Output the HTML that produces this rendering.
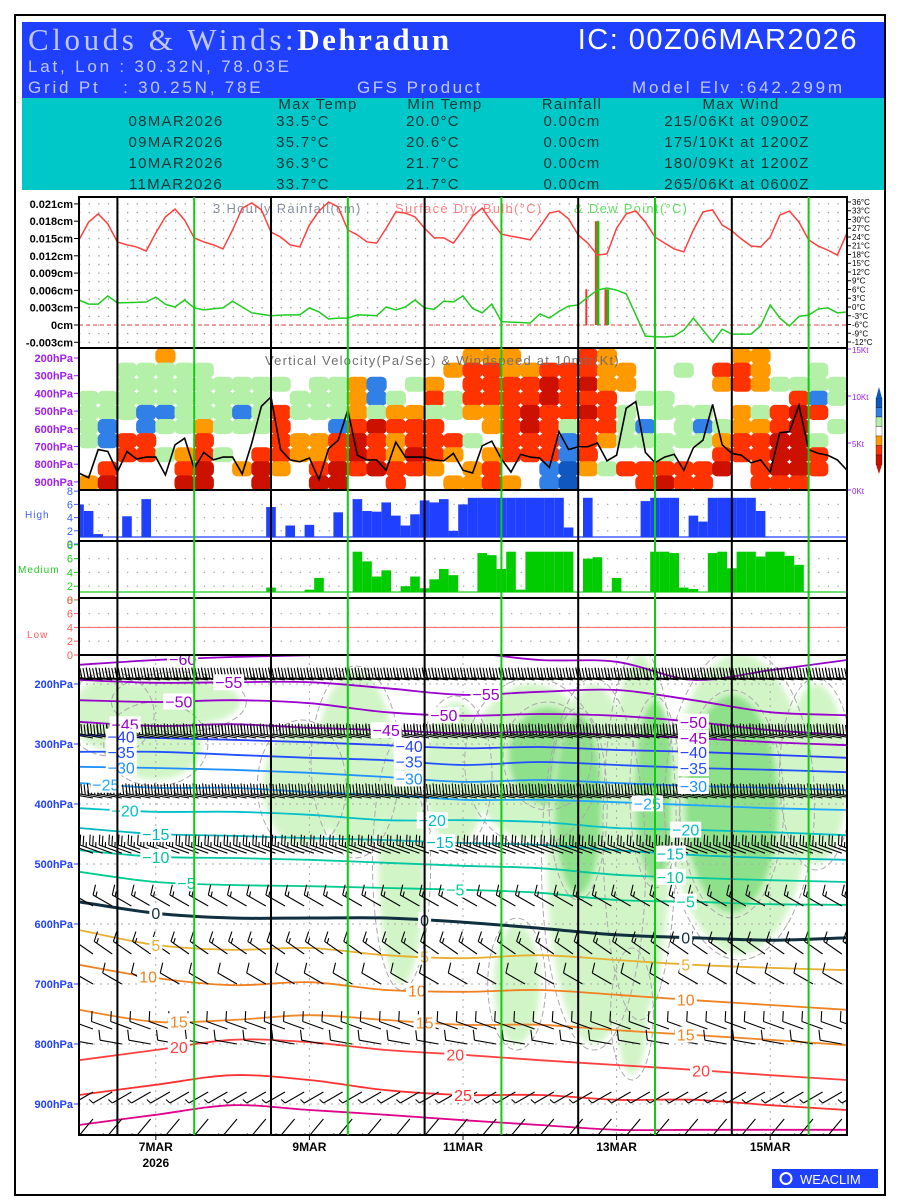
<!DOCTYPE html>
<html><head><meta charset="utf-8"><title>Clouds & Winds: Dehradun</title>
<style>
html,body{margin:0;padding:0;background:#fff;}
svg{display:block;font-family:"Liberation Sans",sans-serif;}
</style></head>
<body>
<svg id="chart" width="900" height="1200" viewBox="0 0 900 1200" xmlns="http://www.w3.org/2000/svg">
<defs>
 <clipPath id="clipRain"><rect x="79" y="197" width="768" height="150"/></clipPath>
 <clipPath id="clipVV"><rect x="79" y="349" width="768" height="141"/></clipPath>
 <clipPath id="clipLow"><rect x="79" y="656" width="768" height="479"/></clipPath>
 <filter id="soft"><feGaussianBlur stdDeviation="3"/></filter>
</defs>
<rect x="15" y="15" width="870" height="1180" fill="#fff" stroke="#000" stroke-width="2"/>
<g>
 <rect x="22" y="22" width="862" height="76" fill="#2040ff"/>
 <rect x="22" y="98" width="862" height="92" fill="#00c8c8"/>
 <text x="28" y="50" font-family="Liberation Serif, serif" font-size="31" fill="#c0c8ff" letter-spacing="3.6">Clouds &amp; Winds:<tspan fill="#fff" font-weight="bold" letter-spacing="2.5">Dehradun</tspan></text>
 <text x="858" y="49" text-anchor="end" font-size="29" fill="#fff" letter-spacing="1.5">IC: 00Z06MAR2026</text>
 <text x="28" y="72" font-size="17" fill="#c0c8ff" letter-spacing="2.8">Lat, Lon : 30.32N, 78.03E</text>
 <text x="28" y="93" font-size="17" fill="#c0c8ff" letter-spacing="2.8" xml:space="preserve">Grid Pt   : 30.25N, 78E</text>
 <text x="357" y="93" font-size="17" fill="#c0c8ff" letter-spacing="2.5">GFS Product</text>
 <text x="632" y="93" font-size="17" fill="#c0c8ff" letter-spacing="2.8">Model Elv :642.299m</text>
 <g font-size="15" fill="#103838" letter-spacing="1.3" text-anchor="middle">
  <text x="318" y="109">Max Temp</text><text x="445" y="109">Min Temp</text><text x="572" y="109">Rainfall</text><text x="741" y="109">Max Wind</text>
  <text x="176" y="126">08MAR2026</text><text x="303" y="126">33.5°C</text><text x="433" y="126">20.0°C</text><text x="572" y="126">0.00cm</text><text x="737" y="126">215/06Kt at 0900Z</text>
  <text x="176" y="147">09MAR2026</text><text x="303" y="147">35.7°C</text><text x="433" y="147">20.6°C</text><text x="572" y="147">0.00cm</text><text x="737" y="147">175/10Kt at 1200Z</text>
  <text x="176" y="168">10MAR2026</text><text x="303" y="168">36.3°C</text><text x="433" y="168">21.7°C</text><text x="572" y="168">0.00cm</text><text x="737" y="168">180/09Kt at 1200Z</text>
  <text x="176" y="189">11MAR2026</text><text x="303" y="189">33.7°C</text><text x="433" y="189">21.7°C</text><text x="572" y="189">0.00cm</text><text x="737" y="189">265/06Kt at 0600Z</text>
 </g>
 <rect x="22" y="190" width="862" height="6" fill="#fff"/>
</g>
<g id="plots"></g>
<g>
 <rect x="772" y="1169" width="106" height="19" fill="#2040ff"/>
 <circle cx="786" cy="1178.5" r="5.5" fill="none" stroke="#fff" stroke-width="2"/>
 <text x="800" y="1184" font-size="13" fill="#fff">WEACLIM</text>
</g>
</svg>
<script>
// ---------- DATA ----------
const temps=[23,29.1,31.9,28.5,22.3,21.3,20.6,19.2,25.4,30.9,33.6,29.8,23.7,22.3,21.3,19.9,26.4,33.9,35.7,33.3,25.7,24,21.3,20.6,28.1,32.9,36,34.3,26.4,24.7,22.3,21.9,27,32.6,32.2,30.9,27,23.7,23.7,21.9,26.4,31.2,33.9,29.1,25,24.3,23.7,23,27.4,32.2,32.9,30.2,24.7,21.9,17.8,18.2,27,31.9,32.9,29.1,24,21.9,19.9,18.9,26.4,32.6,33.3,28.1,26.1,23.3,20.9,20.6,24,31.5,32.9,29.1,23,20.9,19.5,17.8,25.4];
const dewPoints=[2.4,1,1,3.8,1.4,1.5,1.6,1.7,3.4,0.9,0,2.4,-0.3,-1,-0.6,-0.3,2,0,-2,-2.5,-3,-2.8,-2.7,-2.7,-0.3,-1.7,-4.1,-3.8,-3.8,-2.7,-2.8,-3,0,-1,0,2.4,-0.3,-0.8,2,1.7,3.8,-0.5,-2,1,-5,-5.2,-5.3,-5.5,-2.4,-3.8,-1.5,0.3,0.7,3.4,5.8,6.5,5.8,4.5,-2.7,-10,-10.2,-10.3,-10,-7.9,-3.8,-7.9,-12,-7.6,-9.3,-9.3,-9.3,-6.5,0.7,-3.8,-6.5,-3.2,-2.8,-0.7,-0.3,-2,-1.7];
const rainIdx=[53,54,55];
const rainRed=[0.0062,0.018,0.0062];
const rainGreen=[0,0.018,0.0062];
const windKt=[1.8,1.3,4.3,4.1,1.9,4.1,3.3,3.5,3.5,1.6,4.8,5.5,2.3,4,3.2,3.5,3.5,1.7,5,8.9,9.9,4.3,3.2,3,3.4,1.1,4.4,5.3,8.5,3.7,3.2,3.2,2.1,5.1,3.5,3.5,3.5,3.2,3.1,3.9,2.1,1.8,4.7,5.2,3.3,1.9,3.8,3.5,3.4,2.4,6.2,4.3,4.6,4.6,5,3.1,3.7,8.7,9.4,4,2.9,3.5,3.8,2.1,4.5,5.3,9.1,4.8,3.9,3.7,2.9,3.2,1.9,6.1,6.2,9,4.3,3.9,3.7,3.2,2.1];
const vvColumns=["...gggg..o","...ggbb.rR",".gggg.rr..",".gggbbrr..","ogggbg.g..",".ggggg.orR",".ggggorrRR","..gggg.g..","..ggbg..o.","..gggg.rRR","..g.rrrro.","...gg.oo..","..ggg.oorR","..gggbrrRR","..ooorRRr.","..bbgRrrR.","...goroorr","..g.orrRr.","..orgrrro.",".o.gg.ro.o","orrro.g.oo","orrroo.orr","oorrrrrr.o",".orrRRrr..",".rRRrrrrbb",".rrrrgbbBB","rrRrRrrro.","ooorrro.g.",".oo.ggg.r.","...g.bg.rr","...gg.ggrR",".g..ggg.rr","....gbg.rr",".ro..gorR.","orr.oorr..","ooo.gorrrr","..g.rrRRRr","..grRRRRRr",".ggbr.grr.","..gg.g...."];
const highCloud=[6,5,1.5,0,1,4.2,1,6.8,1,1,1,1,1,1,1,1,1,1,1,1,5.6,1,2.8,1,2.9,1,1,4.8,1,6.8,5,4.9,6.3,4.3,2.8,4.5,6.6,6.3,6.8,2,6,7,7,7,7,7,7,7,7,7,7,2.5,1,7,1,1,1,1,1,6.5,7,7,7,1,4.3,3.4,7,7,7,7,7,5,1,1,1,1,1,1,1,1,1];
const medCloud=[1,1,1,1,1,1,1,1,1,1,1,1,1,1,1,1,1,1,1,1,1.8,0,1,1,1.5,3.2,0,1,1,7,5.6,3.4,4.3,1,2,3.4,1.7,3,4.5,3.6,1,1,6.8,6.5,4.5,7,1.5,7,7,7,7,7,1,6,6.2,0.5,3.2,0.5,0.5,0.5,7,7,6.8,1.8,1.6,1,6.8,7,4.6,7,7,6.3,7,7,6.4,5.1,1,0.5,0.5,0.5,0.5];
const isoTemps=[-60,-55,-50,-45,-40,-35,-30,-25,-20,-15,-10,-5,0,5,10,15,20,25,30];
const isoPressures=[
 [168,160,155,152,147,147,160,163,193,177,160],
 [193,198,197,197,207,218,213,210,227,247,252],
 [227,230,227,232,247,253,250,253,263,277,285],
 [263,270,267,273,277,282,280,285,290,297,302],
 [285,290,293,297,302,307,305,310,313,318,323],
 [313,313,318,323,327,335,330,335,340,343,347],
 [338,340,343,348,355,363,360,365,370,373,377],
 [365,373,373,380,385,393,393,397,402,407,410],
 [407,413,413,418,427,427,430,440,443,447,452],
 [440,450,453,457,460,465,468,477,485,490,493],
 [477,488,490,493,498,503,507,518,523,527,530],
 [513,530,535,537,540,543,548,560,563,567,568],
 [563,582,590,590,590,597,607,618,623,627,623],
 [610,635,643,640,652,657,652,660,668,673,677],
 [668,690,702,697,710,713,710,718,727,735,743],
 [743,763,760,752,760,768,768,777,785,793,802],
 [827,810,793,797,810,818,827,835,843,852,860],
 [885,868,852,860,877,885,885,893,893,902,910],
 [935,918,902,910,918,927,935,943,943,943,943]];
const isoLabelDays=[[1.35],[1.95,5.3],[1.3,4.75,8.0],[0.6,4.0,8.0],[0.55,4.3,8.0],[0.55,4.3,8.0],[0.55,4.3,8.0],[0.35,7.4],[0.6,4.6,7.9],[1.0,4.7,7.7],[1.0,7.7],[1.4,4.9,7.9],[1.0,4.5,7.9],[1.0,4.5,7.9],[0.9,4.4,7.9],[1.3,4.5,7.9],[1.3,4.9,8.1],[5.0],[]];
const rhDay=[0.4,1.3,2.9,3.6,4.2,4.9,5.9,6.1,6.7,6.5,7.3,7.5,8.6,8.5,9.6,5.7,7.2,1.0];
const rhPres=[250,230,370,330,500,350,330,320,500,400,450,380,400,400,350,700,750,300];
const rhHalfW=[0.5,0.8,0.5,0.5,0.3,0.4,0.8,0.5,0.6,0.3,0.4,0.25,0.9,0.6,0.4,0.3,0.2,0.6];
const rhHalfH=[60,40,100,150,200,120,130,80,300,150,300,150,250,180,150,100,100,60];
const rhLevel=[1,1,1,1,1,1,1,2,1,2,1,2,1,2,1,1,1,1];
const barbLevels=[193,290,390,482,570,650,700,775,800,880,925];
const barbDirs=[275,280,280,290,300,305,300,290,280,240,220];
const barbSpeeds=[45,40,35,25,15,15,12,10,10,8,8];
const barbEvery=[1,1,1,1,2,2,3,2,3,2,3];
const dayLabels=["7MAR","9MAR","11MAR","13MAR","15MAR"];
const dayLabelPos=[1.0,3.0,5.0,7.0,9.0];
const rainTicks=[0.021,0.018,0.015,0.012,0.009,0.006,0.003,0,-0.003];
const rainTickLabels=["0.021cm","0.018cm","0.015cm","0.012cm","0.009cm","0.006cm","0.003cm","0cm","-0.003cm"];
const tempTicks=[36,33,30,27,24,21,18,15,12,9,6,3,0,-3,-6,-9,-12];
const pTicks=[200,300,400,500,600,700,800,900];
const cloudTicks=[8,6,4,2,0];
const ktTicks=[15,10,5,0];

// ---------- SCALES ----------
const X0=79, X1=847, STEP=9.6, DAY=76.8;
const xT=i=>X0+i*STEP;
const xD=d=>X0+d*DAY;
const yRain=v=>325-v*5767;
const yTemp=t=>307-t*2.917;
const yKt=k=>490-k*9.4;
const yHigh=v=>544-v*6.6;
const yMed=v=>600-v*6.9;
const yLowC=v=>655-v*6.9;
const yP=p=>684+(p-200)*0.6;
const yVVp=p=>358+(p-200)*0.177;

const NS="http://www.w3.org/2000/svg";
const root=document.getElementById('plots');
function mk(tag,attrs,parent){const e=document.createElementNS(NS,tag);for(const k in attrs)e.setAttribute(k,attrs[k]);(parent||root).appendChild(e);return e;}
function grp(name,clip){const g=mk('g',clip?{'clip-path':'url(#'+clip+')'}:{});return g;}
function txt(s,attrs,parent){const t=mk('text',attrs,parent);t.textContent=s;return t;}
function smooth(pts){let d='M'+pts[0][0]+','+pts[0][1];for(let i=0;i<pts.length-1;i++){const p0=pts[i-1]||pts[i],p1=pts[i],p2=pts[i+1],p3=pts[i+2]||p2;
 const c1=[p1[0]+(p2[0]-p0[0])/6,p1[1]+(p2[1]-p0[1])/6],c2=[p2[0]-(p3[0]-p1[0])/6,p2[1]-(p3[1]-p1[1])/6];
 d+=' C'+c1[0].toFixed(1)+','+c1[1].toFixed(1)+' '+c2[0].toFixed(1)+','+c2[1].toFixed(1)+' '+p2[0].toFixed(1)+','+p2[1].toFixed(1);}return d;}

// ---------- RAIN / TEMP PANEL ----------
const gR=grp('rain-temp-panel');
for(let v=-0.003;v<=0.0211;v+=0.0015){const l=mk('line',{x1:X0,x2:X1,y1:yRain(v),y2:yRain(v),stroke:'#999','stroke-width':1.3,'stroke-dasharray':'1.3,8.3'},gR);}
const zl=mk('line',{x1:X0,x2:X1,y1:yRain(0),y2:yRain(0),stroke:'#e04040','stroke-width':1,'stroke-dasharray':'4,3'},gR);

txt('3 Hourly Rainfall(cm)',{x:213,y:213,'font-size':13,fill:'#8890a0','letter-spacing':1.3},gR);
txt('Surface Dry Bulb(°C)',{x:395,y:213,'font-size':13,fill:'#ff8080','letter-spacing':1.3},gR);
txt('& Dew Point(°C)',{x:574,y:213,'font-size':13,fill:'#60e060','letter-spacing':1.3},gR);
rainIdx.forEach((idx,k)=>{
 const r=mk('rect',{x:xT(idx)-2.5,y:yRain(rainRed[k]),width:2,height:yRain(0)-yRain(rainRed[k]),fill:'#ff3030'},gR);
 
 if(rainGreen[k]>0){const g=mk('rect',{x:xT(idx)-0.5,y:yRain(rainGreen[k]),width:2.5,height:yRain(0)-yRain(rainGreen[k]),fill:'#00cc00'},gR);
 }
});
const tl=mk('polyline',{points:temps.map((t,i)=>xT(i)+','+yTemp(t)).join(' '),fill:'none',stroke:'#ff4040','stroke-width':1.5},gR);

const dl=mk('polyline',{points:dewPoints.map((t,i)=>xT(i)+','+yTemp(t)).join(' '),fill:'none',stroke:'#20cc20','stroke-width':1.5},gR);

rainTicks.forEach((v,k)=>{const t=txt(rainTickLabels[k],{x:73,y:yRain(v)+4,'font-size':11,'text-anchor':'end',fill:'#000','font-weight':'bold'});
 
 mk('line',{x1:74,x2:79,y1:yRain(v),y2:yRain(v),stroke:'#000'});});
tempTicks.forEach(v=>{const t=txt(v+'°C',{x:852,y:yTemp(v)+3,'font-size':8,fill:'#000'});
 
 mk('line',{x1:847,x2:851,y1:yTemp(v),y2:yTemp(v),stroke:'#000'});});

// ---------- VERTICAL VELOCITY PANEL ----------
const gV=grp('vertical-velocity-panel','clipVV');
const vvColor={'.':null,g:'#b4f0a8',b:'#3080e8',B:'#1058c0',o:'#ff9900',r:'#ff3300',R:'#cc1100'};
const cw=768/vvColumns.length, ch=141/10;
vvColumns.forEach((col,c)=>{[...col].forEach((code,r)=>{const f=vvColor[code];if(!f)return;
 const cell=mk('rect',{x:X0+c*cw-0.5,y:349+r*ch-0.5,width:cw+1,height:ch+1,fill:f,rx:5},gV);
 });});
txt('Vertical Velocity(Pa/Sec) & Windspeed at 10mtr(Kt)',{x:265,y:365,'font-size':13,fill:'#707070','letter-spacing':1.2},gV);
const wl=mk('polyline',{points:windKt.map((k,i)=>xT(i)+','+yKt(k)).join(' '),fill:'none',stroke:'#000','stroke-width':1.6},gV);

pTicks.forEach(p=>{const t=txt(p+'hPa',{x:73,y:yVVp(p)+4,'font-size':11,'text-anchor':'end',fill:'#a020f0','font-weight':'bold'});
 
 mk('line',{x1:74,x2:79,y1:yVVp(p),y2:yVVp(p),stroke:'#a020f0'});});
ktTicks.forEach(k=>{const t=txt(k+'Kt',{x:852,y:yKt(k)+4,'font-size':8,fill:'#a020f0'});
 
 mk('line',{x1:847,x2:851,y1:yKt(k),y2:yKt(k),stroke:'#a020f0'});});
const cb=grp('vv-colorbar');
['#1058c0','#3080e8','#b4f0a8','#ffffff','#ff9900','#ff3300','#cc1100'].forEach((c,k)=>{mk('rect',{x:876,y:398+k*9.5,width:6,height:9.5,fill:c,stroke:'#000','stroke-width':0.3},cb);});
mk('polygon',{points:'876,398 882,398 879,387',fill:'#1058c0'},cb);
mk('polygon',{points:'876,464.5 882,464.5 879,474',fill:'#cc1100'},cb);

// ---------- CLOUD PANELS ----------
function cloudGrid(yf){for(const v of [2,4,6]){mk('line',{x1:X0,x2:X1,y1:yf(v),y2:yf(v),stroke:'#aaa','stroke-width':1.3,'stroke-dasharray':'1.3,8.3'});}}
cloudGrid(yHigh);cloudGrid(yMed);cloudGrid(yLowC);
const gH=grp('high-cloud-bars');
mk('line',{x1:X0,x2:X1,y1:537,y2:537,stroke:'#2040ff','stroke-width':1.2},gH);
highCloud.forEach((v,i)=>{if(v<=1)return;const x=Math.max(X0,xT(i)-4.8),x2=Math.min(X1,xT(i)+4.8);
 const b=mk('rect',{x:x,y:yHigh(v),width:x2-x,height:537-yHigh(v),fill:'#2040ff'},gH);
 });
const gM=grp('medium-cloud-bars');
mk('line',{x1:X0,x2:X1,y1:592,y2:592,stroke:'#20cc20','stroke-width':1.2},gM);
medCloud.forEach((v,i)=>{if(v<=1)return;const x=Math.max(X0,xT(i)-4.8),x2=Math.min(X1,xT(i)+4.8);
 const b=mk('rect',{x:x,y:yMed(v),width:x2-x,height:592-yMed(v),fill:'#00cc00'},gM);
 });
const ll=mk('line',{x1:X0,x2:X1,y1:yLowC(4),y2:yLowC(4),stroke:'#ff6060','stroke-width':1});

[[yHigh,'#4060ff','High',25,518],[yMed,'#20cc20','Medium',18,573],[yLowC,'#ff6060','Low',27,638]].forEach(([yf,c,name,lx,ly])=>{
 cloudTicks.forEach(v=>{const t=txt(String(v),{x:73,y:yf(v)+4,'font-size':11,'text-anchor':'end',fill:c});
  
  mk('line',{x1:74,x2:79,y1:yf(v),y2:yf(v),stroke:c});});
 const t=txt(name,{x:lx,y:ly,'font-size':10,fill:c,'letter-spacing':1});});

// ---------- LOWER PANEL ----------
const gL=grp('cross-section-panel','clipLow');
rhDay.forEach((d,k)=>{const e=mk('ellipse',{cx:xD(d),cy:yP(rhPres[k]),rx:rhHalfW[k]*DAY,ry:rhHalfH[k]*0.6,fill:rhLevel[k]==2?'#8fe08a':'#d2f5c8',filter:'url(#soft)'},gL);
 });
rhDay.forEach((d,k)=>{const e=mk('ellipse',{cx:xD(d),cy:yP(rhPres[k]),rx:rhHalfW[k]*DAY+6,ry:rhHalfH[k]*0.6+6,fill:'none',stroke:'#aaa','stroke-width':1,'stroke-dasharray':'6,3'},gL);
 });
pTicks.forEach(p=>mk('line',{x1:X0,x2:X1,y1:yP(p),y2:yP(p),stroke:'#aaa','stroke-dasharray':'2,5'},gL));
dayLabelPos.forEach(d=>mk('line',{x1:xD(d),x2:xD(d),y1:656,y2:1135,stroke:'#aaa','stroke-dasharray':'2,5'},gL));
const isoColor={'-60':'#9900cc','-55':'#9900cc','-50':'#9900cc','-45':'#9900cc','-40':'#2840ff','-35':'#2050ff','-30':'#2090ff','-25':'#20a8ff','-20':'#00c0c8','-15':'#00b8c0','-10':'#00c8a0','-5':'#00cc90','0':'#103040','5':'#e8b030','10':'#f08020','15':'#f08828','20':'#ff4040','25':'#ff3030','30':'#e0008a'};
isoTemps.forEach((t,k)=>{const pts=isoPressures[k].map((p,d)=>[xD(d),yP(p)]);
 const path=mk('path',{d:smooth(pts),fill:'none',stroke:isoColor[t],'stroke-width':t===0?3:1.8},gL);
 });
function barb(x,y,dir,spd,len,parent){const a=dir*Math.PI/180,ux=Math.sin(a),uy=-Math.cos(a),px=-uy,py=ux;
 const ex=x+len*ux,ey=y+len*uy;let d='M'+x.toFixed(1)+','+y.toFixed(1)+' L'+ex.toFixed(1)+','+ey.toFixed(1);
 let n=Math.floor(spd/10),half=(spd%10)>=5;let pos=len;
 for(let k=0;k<n;k++){const bx=x+pos*ux,by=y+pos*uy;d+=' M'+bx.toFixed(1)+','+by.toFixed(1)+' l'+(px*10+ux*3).toFixed(1)+','+(py*10+uy*3).toFixed(1);pos-=3.2;}
 if(half){const bx=x+pos*ux,by=y+pos*uy;d+=' M'+bx.toFixed(1)+','+by.toFixed(1)+' l'+(px*5+ux*1.6).toFixed(1)+','+(py*5+uy*1.6).toFixed(1);}
 return mk('path',{d:d,stroke:'#000','stroke-width':1.1,fill:'none'},parent);}
const gB=grp('wind-barbs','clipLow');
barbLevels.forEach((p,k)=>{for(let i=0;i<=80;i+=barbEvery[k]){
 const b=barb(xT(i)+14,yP(p),barbDirs[k],barbSpeeds[k],k<4?24:22,gB);
 }});
const gLab=grp('isotherm-labels','clipLow');
isoTemps.forEach((t,k)=>{isoLabelDays[k].forEach(d=>{const i0=Math.floor(d),f=d-i0,pr=isoPressures[k];
 const p=pr[i0]+(pr[Math.min(i0+1,10)]-pr[i0])*f;const s=t<0?'\u2212'+(-t):String(t);
 const w=s.length*9+4;mk('rect',{x:xD(d)-w/2,y:yP(p)-8,width:w,height:16,fill:'#fff'},gLab);
 const lab=txt(s,{x:xD(d),y:yP(p)+6,'font-size':16,'text-anchor':'middle',fill:isoColor[t]},gLab);
 });});
pTicks.forEach(p=>{const t=txt(p+'hPa',{x:73,y:yP(p)+4,'font-size':11,'text-anchor':'end',fill:'#2040ff','font-weight':'bold'});
 
 mk('line',{x1:74,x2:79,y1:yP(p),y2:yP(p),stroke:'#2040ff'});});
dayLabels.forEach((s,k)=>{const t=txt(s,{x:xD(dayLabelPos[k]),y:1151,'font-size':12,'text-anchor':'middle',fill:'#000','font-weight':'bold'});
 
 mk('line',{x1:xD(dayLabelPos[k]),x2:xD(dayLabelPos[k]),y1:1135,y2:1140,stroke:'#000'});});
const yr=txt('2026',{x:xD(1),y:1167,'font-size':12,'text-anchor':'middle',fill:'#000','font-weight':'bold'});


// ---------- FRAMES & DAY LINES ----------
const gF=grp('panel-frames');
[[197,348],[348,490],[490,541],[541,598],[598,655],[655,1135]].forEach(([a,b])=>{mk('rect',{x:X0,y:a,width:768,height:b-a,fill:'none',stroke:'#000','stroke-width':2},gF);});
for(let d=0.5;d<10;d+=2){const l=mk('line',{x1:xD(d),x2:xD(d),y1:197,y2:1135,stroke:'#000','stroke-width':2},gF);}
for(let d=1.5;d<10;d+=2){const l=mk('line',{x1:xD(d),x2:xD(d),y1:197,y2:1135,stroke:'#10cc10','stroke-width':2},gF);}
</script>
</body></html>
